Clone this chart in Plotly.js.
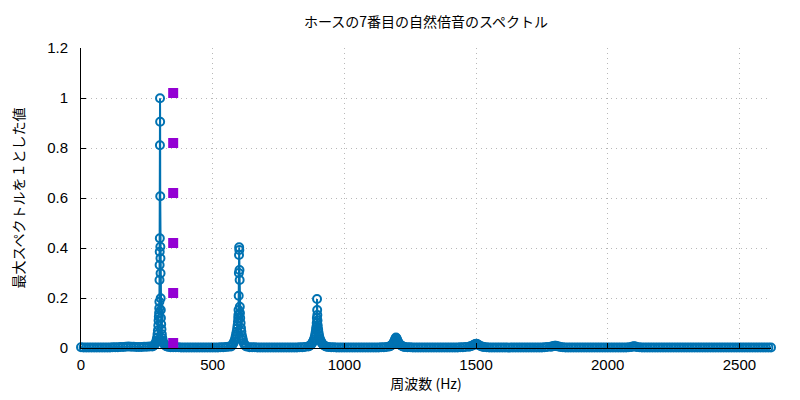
<!DOCTYPE html>
<html>
<head>
<meta charset="utf-8">
<script src="https://cdn.plot.ly/plotly-3.0.1.min.js"></script>
<style>html,body{margin:0;padding:0;background:#fff;}#chart{width:800px;height:400px;}</style>
</head>
<body>
<div id="chart"></div>
<script>
// ---- Data (frequency in Hz, amplitude normalised to max = 1) ----
const titleText = "ホースの7番目の自然倍音のスペクトル";
const xTitle = "周波数 (Hz)";
const yTitle = "最大スペクトルを１とした値";
const xTicks = [0, 500, 1000, 1500, 2000, 2500];
const yTicks = [0, 0.2, 0.4, 0.6, 0.8, 1, 1.2];

// baseline segments
const freqA = [0,10,20,30,40,50,60,70,80,90,100,110,120,130,140,150,160,170,180,190,200,210,220,230,240,250,260];
const ampA  = [0.003,0.002,0.002,0.002,0.002,0.002,0.002,0.002,0.002,0.002,0.002,0.002,0.003,0.003,0.003,0.004,0.004,0.005,0.006,0.005,0.005,0.004,0.004,0.004,0.005,0.005,0.006];

const p1Freq = [270.5,274.5,278.5,281.5,284.5,286.5,288.5,290.5,292,293.5,294.5,295.5,296.5,297.1,297.7,298.1,298.5,298.9,299.3,299.7,300.1,300.5,300.9,301.3,301.7,302.1,302.5,303,303.5,304.5,305.5,307,308.5,310.5,312.5,315.5,318.5,322.5,326.5,331.5];
const p1Amp  = [0.006,0.008,0.012,0.016,0.022,0.03,0.04,0.055,0.07,0.09,0.11,0.125,0.14,0.159,0.185,0.272,0.332,0.385,0.439,0.811,0.999,0.905,0.607,0.405,0.359,0.299,0.199,0.152,0.12,0.095,0.075,0.055,0.04,0.03,0.022,0.016,0.012,0.008,0.006,0.005];

const freqB = [340,350,360,370,380,390,400,410,420,430,440,450,460,470,480,490,500,510,520,530,540,550,560];
const ampB  = [0.003,0.003,0.003,0.003,0.002,0.002,0.002,0.002,0.002,0.002,0.002,0.002,0.002,0.002,0.002,0.002,0.002,0.002,0.002,0.003,0.003,0.004,0.005];

const p2Freq = [570,573,576,579,582,585,587,589,591,593,594.5,596,597,597.6,598.2,598.8,599.4,600,600.6,601.2,601.8,602.4,603,603.6,604.5,606,607.5,609,611,613,615,618,621,624,628];
const p2Amp  = [0.006,0.01,0.015,0.02,0.027,0.035,0.045,0.055,0.065,0.078,0.09,0.105,0.12,0.132,0.152,0.209,0.3,0.372,0.403,0.392,0.312,0.272,0.165,0.14,0.12,0.1,0.08,0.065,0.05,0.04,0.03,0.02,0.014,0.009,0.006];

const freqC = [640,650,660,670,680,690,700,710,720,730,740,750,760,770,780,790,800,810,820,830,840,850];
const ampC  = [0.003,0.003,0.003,0.002,0.002,0.002,0.002,0.002,0.002,0.002,0.002,0.002,0.002,0.002,0.002,0.002,0.002,0.002,0.002,0.003,0.003,0.004];

const p3Freq = [863,867,871,875,878,881,884,887,889,891,892.5,894,895,895.6,896.2,896.8,897.4,898,899,900.5,902,904,906,909,912,915,919,923,928,933];
const p3Amp  = [0.006,0.008,0.011,0.015,0.02,0.026,0.033,0.042,0.052,0.063,0.075,0.085,0.1,0.12,0.196,0.152,0.132,0.11,0.09,0.075,0.062,0.05,0.04,0.032,0.025,0.019,0.014,0.01,0.007,0.005];

const freqD = [940,950,960,970,980,990,1000,1010,1020,1030,1040,1050,1060,1070,1080,1090,1100,1110,1120,1130,1140,1150,1160];
const ampD  = [0.004,0.003,0.003,0.002,0.002,0.002,0.002,0.002,0.002,0.002,0.002,0.002,0.002,0.002,0.002,0.002,0.002,0.002,0.002,0.002,0.003,0.003,0.004];

const p4Freq = [1171,1175,1179,1183,1186,1189,1192,1194,1196,1198,1200,1203,1206,1209,1213,1217,1221,1225];
const p4Amp  = [0.006,0.008,0.011,0.015,0.02,0.026,0.033,0.038,0.042,0.039,0.034,0.027,0.021,0.016,0.012,0.009,0.007,0.005];

const freqE = [1230,1240,1250,1260,1270,1280,1290,1300,1310,1320,1330,1340,1350,1360,1370,1380,1390,1400,1410,1420,1430,1440,1450,1460];
const ampE  = [0.004,0.003,0.003,0.002,0.002,0.002,0.002,0.002,0.002,0.002,0.002,0.002,0.002,0.002,0.002,0.002,0.002,0.002,0.002,0.002,0.002,0.003,0.003,0.004];

const p5Freq = [1473,1479,1485,1490,1494,1498,1501,1504,1508,1513,1519,1525];
const p5Amp  = [0.005,0.007,0.009,0.012,0.014,0.016,0.017,0.016,0.013,0.01,0.007,0.005];

const freqF = [1530,1540,1550,1560,1570,1580,1590,1600,1610,1620,1630,1640,1650,1660,1670,1680,1690,1700,1710,1720,1730,1740,1750,1760,1770];
const ampF  = [0.004,0.003,0.002,0.002,0.002,0.002,0.002,0.002,0.002,0.002,0.002,0.002,0.002,0.002,0.002,0.002,0.002,0.002,0.002,0.002,0.002,0.002,0.002,0.003,0.004];

const p6Freq = [1783,1789,1794,1799,1803,1808,1814,1821];
const p6Amp  = [0.005,0.006,0.008,0.009,0.009,0.007,0.006,0.004];

const freqG = [1830,1840,1850,1860,1870,1880,1890,1900,1910,1920,1930,1940,1950,1960,1970,1980,1990,2000,2010,2020,2030,2040,2050,2060,2070,2080];
const ampG  = [0.003,0.002,0.002,0.002,0.002,0.002,0.002,0.002,0.002,0.002,0.002,0.002,0.002,0.002,0.002,0.002,0.002,0.002,0.002,0.002,0.002,0.002,0.002,0.002,0.002,0.003];

const p7Freq = [2090,2095,2100,2105,2110];
const p7Amp  = [0.004,0.006,0.007,0.006,0.004];

const freqH = [2120,2130,2140,2150,2160,2170,2180,2190,2200,2210,2220,2230,2240,2250,2260,2270,2280,2290,2300,2310,2320,2330,2340,2350,2360,2370,2380,2390,2400,2410,2420,2430,2440,2450,2460,2470,2480,2490,2500,2510,2520,2530,2540,2550,2560,2570,2580,2590,2600,2610,2620];
const ampH  = [0.003,0.002,0.002,0.002,0.002,0.002,0.002,0.002,0.002,0.002,0.002,0.002,0.002,0.002,0.002,0.002,0.002,0.002,0.002,0.002,0.002,0.002,0.002,0.002,0.002,0.002,0.002,0.002,0.002,0.002,0.002,0.002,0.002,0.002,0.002,0.002,0.002,0.002,0.002,0.002,0.002,0.002,0.002,0.002,0.002,0.002,0.002,0.002,0.002,0.002,0.002];

// purple square markers
const markFreq = [350, 350, 350, 350, 350, 350];
const markAmp  = [1.02, 0.82, 0.62, 0.42, 0.22, 0.02];

// ---- build the spectrum series (sorted by frequency) ----
const segF = [freqA,p1Freq,freqB,p2Freq,freqC,p3Freq,freqD,p4Freq,freqE,p5Freq,freqF,p6Freq,freqG,p7Freq,freqH];
const segA = [ampA,p1Amp,ampB,p2Amp,ampC,p3Amp,ampD,p4Amp,ampE,p5Amp,ampF,p6Amp,ampG,p7Amp,ampH];
let pts = [];
segF.forEach((f, i) => f.forEach((v, j) => pts.push([v, segA[i][j]])));
pts.sort((a, b) => a[0] - b[0]);
const specX = pts.map(p => p[0]);
const specY = pts.map(p => p[1]);

const blue = "#0072b2";
const traces = [
  {
    type: "scatter", mode: "lines+markers",
    x: specX, y: specY,
    line: {color: blue, width: 2},
    marker: {symbol: "circle-open", size: 8, color: blue, line: {color: blue, width: 2}},
    cliponaxis: false, showlegend: false, hoverinfo: "x+y"
  },
  {
    type: "scatter", mode: "markers",
    x: markFreq, y: markAmp,
    marker: {symbol: "square", size: 10, color: "#9400d3"},
    cliponaxis: false, showlegend: false
  }
];

const fontFam = "Liberation Sans, Noto Sans CJK JP, sans-serif";
const gridStyle = {showgrid: true, gridcolor: "#b8b8b8", griddash: "1px,4px", gridwidth: 1};
const layout = {
  width: 800, height: 400,
  margin: {l: 81, r: 29, t: 48, b: 52},
  paper_bgcolor: "#fff", plot_bgcolor: "#fff",
  font: {family: fontFam, size: 15, color: "#000"},
  title: {text: titleText, font: {family: "Noto Sans CJK JP", size: 14, color: "#000"},
          x: 0.5, xref: "paper", xanchor: "center", y: 0.945, yanchor: "middle"},
  xaxis: Object.assign({
    range: [0, 2620], tickvals: xTicks, ticktext: xTicks.map(String),
    ticks: "inside", ticklen: 5, tickcolor: "#000", tickwidth: 1,
    showline: true, linecolor: "#000", linewidth: 1, mirror: false,
    zeroline: false, ticklabelstandoff: 3,
    tickfont: {family: fontFam, size: 15, color: "#000"},
    title: {text: xTitle, font: {family: "Noto Sans CJK JP", size: 14, color: "#000"}, standoff: 5}
  }, gridStyle),
  yaxis: Object.assign({
    range: [0, 1.2], tickvals: yTicks, ticktext: yTicks.map(String),
    ticks: "inside", ticklen: 5, tickcolor: "#000", tickwidth: 1,
    showline: true, linecolor: "#000", linewidth: 1, mirror: false,
    zeroline: false, ticklabelstandoff: 9,
    tickfont: {family: fontFam, size: 15, color: "#000"},
    title: {text: yTitle, font: {family: "Noto Sans CJK JP", size: 14, color: "#000"}, standoff: 19}
  }, gridStyle)
};

Plotly.newPlot("chart", traces, layout, {staticPlot: true, displayModeBar: false});
</script>
</body>
</html>
